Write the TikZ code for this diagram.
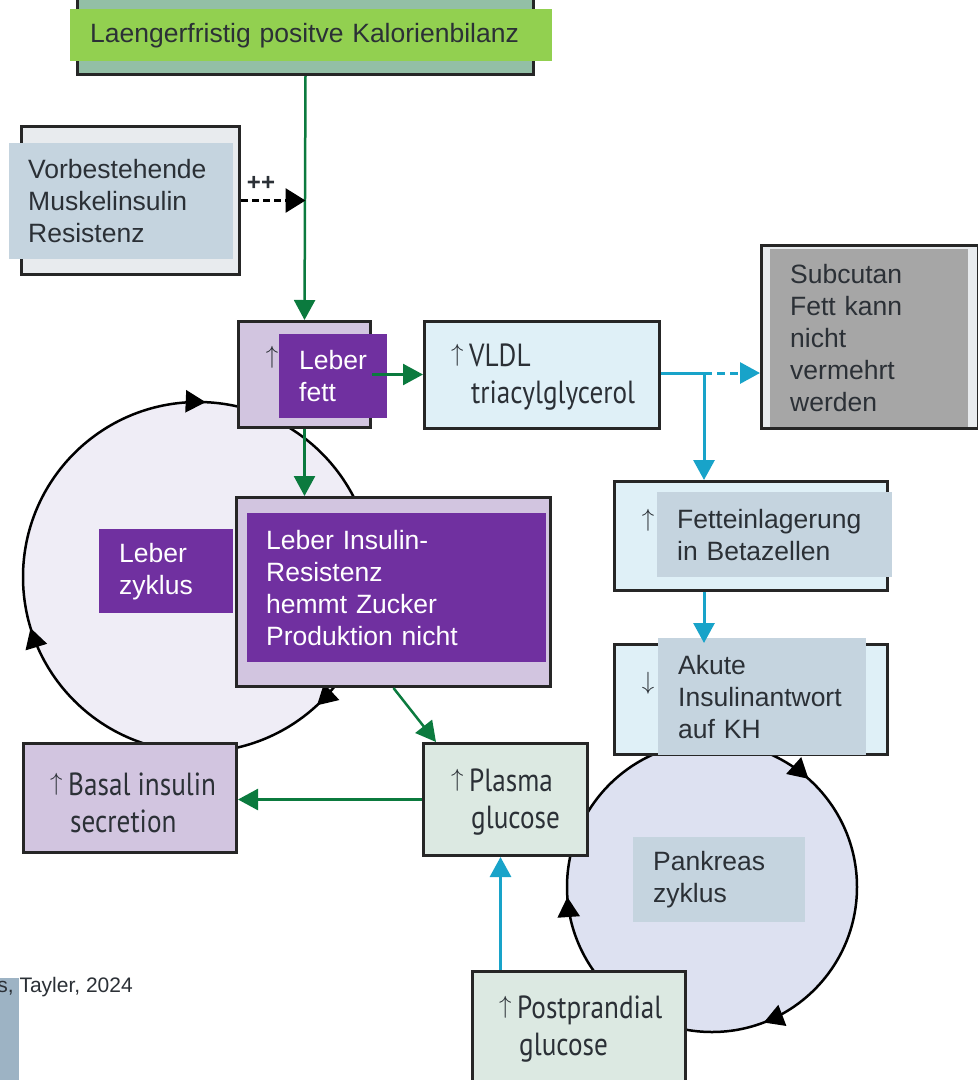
\documentclass[tikz,border=0pt]{standalone}
\usepackage{fontspec}
\setmainfont{Liberation Sans}
\newfontfamily\lancetfont[FakeStretch=0.85]{PT Sans}
\usetikzlibrary{arrows.meta,decorations.markings}
\definecolor{txt}{HTML}{2B3036}
\definecolor{bord}{HTML}{262626}
\definecolor{kalfill}{HTML}{93BFA6}
\definecolor{kalL}{HTML}{92D050}
\definecolor{grayfill}{HTML}{E8EBEE}
\definecolor{bluegray}{HTML}{C5D4DF}
\definecolor{purp}{HTML}{7030A0}
\definecolor{lpurp}{HTML}{D2C5E0}
\definecolor{lblue}{HTML}{DFF0F7}
\definecolor{midgray}{HTML}{A6A6A6}
\definecolor{lgreen}{HTML}{DCE9E2}
\definecolor{circA}{HTML}{EFEDF6}
\definecolor{circB}{HTML}{DDE1F1}
\definecolor{grn}{HTML}{0B7A3E}
\definecolor{blu}{HTML}{18A3C9}
\definecolor{foot}{HTML}{9DB3C4}
\newcommand{\upA}{\makebox[18pt][l]{\raisebox{5pt}{\fontsize{25}{25}\selectfont$\uparrow$}}}
\newcommand{\indA}{\hspace*{20pt}}
\begin{document}
\begin{tikzpicture}[x=1pt,y=-1pt,
  box/.style={draw=bord, line width=3pt, anchor=north west, inner sep=0pt},
  ovl/.style={anchor=north west, inner sep=0pt, align=left, text=txt, font=\fontsize{26.5}{32}\selectfont},
  wovl/.style={ovl, text=white, fill=purp},
  lan/.style={anchor=west, inner sep=0pt, align=left, text=txt, font=\lancetfont\fontsize{32}{37}\selectfont},
  arrtxt/.style={inner sep=0pt, text=txt, font=\fontsize{24}{26}\selectfont},
  garr/.style={draw=grn, line width=2.5pt, -{Triangle[length=20pt,width=21pt]}},
  barr/.style={draw=blu, line width=3pt, -{Triangle[length=20pt,width=21pt]}},
  cyc/.style={draw=black, line width=2.5pt}
]
\useasboundingbox (0,0) rectangle (978,1080);

% cycles
\coordinate (lzc) at (198,577);
\draw[cyc, fill=circA, postaction={decorate}, decoration={markings,
  mark=at position 0.131 with {\arrow{Triangle[length=20pt,width=22pt]}},
  mark=at position 0.453 with {\arrow{Triangle[length=20pt,width=22pt]}},
  mark=at position 0.757 with {\arrow{Triangle[length=20pt,width=22pt]}}}]
  (lzc) circle[radius=175];
\coordinate (pzc) at (712,887);
\draw[cyc, fill=circB, postaction={decorate}, decoration={markings,
  mark=at position 0.192 with {\arrow{Triangle[length=20pt,width=22pt]}},
  mark=at position 0.489 with {\arrow{Triangle[length=20pt,width=22pt]}},
  mark=at position 0.866 with {\arrow{Triangle[length=20pt,width=22pt]}}}]
  (pzc) circle[radius=145];

% boxes
\node[box, fill=kalfill, minimum width=456pt, minimum height=83pt] (kal) at (76,-10) {};
\node[ovl, fill=kalL, minimum width=482pt, minimum height=52pt, text width=442pt] (kalL) at (70,9) {Laengerfristig positve Kalorienbilanz};

\node[box, fill=grayfill, minimum width=218pt, minimum height=148pt] (vor) at (20,125) {};
\node[ovl, fill=bluegray, minimum width=224pt, minimum height=116pt, text width=186pt] (vorL) at (9,143) {Vorbestehende\\Muskelinsulin\\Resistenz};

\node[box, fill=lpurp, minimum width=132pt, minimum height=106pt] (lfett) at (237,320) {};
\node[arrtxt, font=\fontsize{26}{28}\selectfont] (lfettA) at (272,357) {$\uparrow$};
\node[wovl, minimum width=108pt, minimum height=84pt, text width=68pt] (lfettL) at (279,334) {Leber\\fett};

\node[box, fill=lblue, minimum width=235pt, minimum height=107pt] (vldl) at (423,320) {};
\node[lan] (vldlT) at (451,377) {\upA VLDL\\\indA triacylglycerol};

\node[box, fill=grayfill, minimum width=217pt, minimum height=183pt] (subc) at (760,244) {};
\node[ovl, fill=midgray, minimum width=198pt, minimum height=178pt, text width=158pt] (subcL) at (770,249) {Subcutan\\Fett kann\\nicht\\vermehrt\\werden};

\node[box, fill=lblue, minimum width=273pt, minimum height=109pt] (fett) at (613,480) {};
\node[arrtxt] (fettA) at (648,520) {$\uparrow$};
\node[ovl, fill=bluegray, minimum width=235pt, minimum height=85pt, text width=195pt] (fettL) at (657,492) {Fetteinlagerung\\in Betazellen};

\node[box, fill=lblue, minimum width=273pt, minimum height=110pt] (akute) at (613,643) {};
\node[arrtxt] (akuteA) at (648,683) {$\downarrow$};
\node[ovl, fill=bluegray, minimum width=208pt, minimum height=117pt, text width=168pt] (akuteL) at (658,638) {Akute\\Insulinantwort\\auf KH};

\node[ovl, fill=bluegray, minimum width=172pt, minimum height=85pt, text width=132pt] (panL) at (633,837) {Pankreas\\zyklus};

\node[box, fill=lpurp, minimum width=314pt, minimum height=189pt] (lins) at (235,496) {};
\node[wovl, minimum width=299pt, minimum height=149pt, text width=261pt] (linsL) at (247,513) {Leber Insulin-\\Resistenz\\hemmt Zucker\\Produktion nicht};

\node[wovl, minimum width=134pt, minimum height=84pt, text width=94pt] (zykL) at (99,529) {Leber\\zyklus};

\node[box, fill=lgreen, minimum width=164pt, minimum height=112pt] (plasma) at (422,742) {};
\node[lan] (plasmaT) at (451,802) {\upA Plasma\\\indA glucose};

\node[box, fill=lpurp, minimum width=213pt, minimum height=109pt] (basal) at (22,742) {};
\node[lan] (basalT) at (50,803) {\upA Basal insulin\\\indA secretion};

\node[box, fill=lgreen, minimum width=213pt, minimum height=115pt] (postp) at (471,970) {};
\node[lan] (postpT) at (499,1029) {\upA Postprandial\\\indA glucose};

% footer
\node[anchor=north west, fill=foot, inner sep=0pt, minimum width=19pt, minimum height=110pt] (footbar) at (0,978) {};
\node[anchor=base east, inner sep=0pt, text=txt, font=\fontsize{21}{24}\selectfont] (cite) at (133,992) {s, Tayler, 2024};

% connectors
\draw[garr] (kal.south) -- (lfett.north);
\draw[draw=black, line width=3pt, dash pattern=on 7pt off 4pt, -{Triangle[length=20pt,width=24pt]}] (vor.east) -- (vor.east -| kal.south);
\node[inner sep=0pt, font=\bfseries\fontsize{24}{26}\selectfont, text=txt] (pp) at (261,183) {++};
\draw[garr] (lfett.east) -- (lfett.east -| vldl.west);
\draw[garr] (lfett.south) -- (lfett.south |- lins.north);
\draw[garr] (lins.south) -- ([xshift=14pt]plasma.north west);
\draw[garr] (plasma.west) -- (plasma.west -| basal.east);
\draw[barr] ([xshift=-5pt]plasma.south |- postp.north) -- ([xshift=-5pt]plasma.south);
\coordinate (j) at (704,373);
\draw[draw=blu, line width=3pt] (vldl.east |- j) -- (j);
\draw[barr, dash pattern=on 8pt off 5pt] (j) -- (j -| subc.west);
\draw[barr] (j) -- (j |- fett.north);
\draw[barr] (fett.south -| j) -- (akute.north -| j);
\end{tikzpicture}
\end{document}
